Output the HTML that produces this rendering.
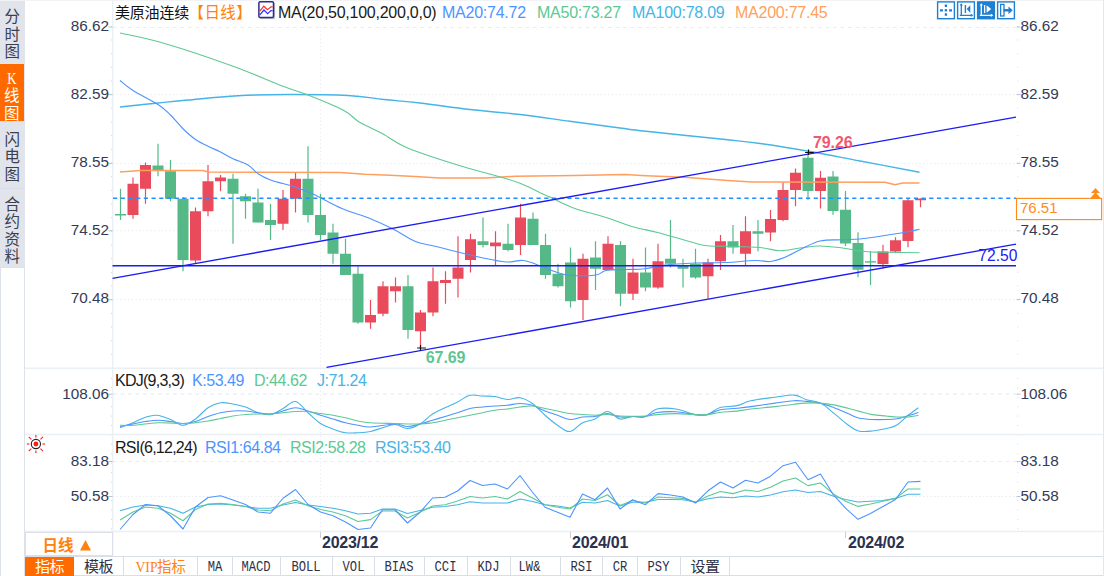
<!DOCTYPE html>
<html><head><meta charset="utf-8"><title>美原油连续 日线</title>
<style>
*{margin:0;padding:0;box-sizing:border-box}
html,body{width:1104px;height:576px;overflow:hidden;background:#fff}
body{position:relative;font-family:"Liberation Sans","Noto Sans CJK SC",sans-serif;color:#222}
.abs{position:absolute;white-space:nowrap}
#side{position:absolute;left:0;top:0;width:25px;height:267px;background:#e2e4ec}
#side div{position:absolute;left:0;width:24.5px;text-align:center;font-size:15.5px;line-height:17.5px;color:#3a3f52;font-family:"Liberation Sans","Noto Sans CJK SC",sans-serif}
#side .on{background:#ff6a00;color:#fff}
#sidebox{position:absolute;left:0;top:266.5px;width:25px;height:310px;border:1.4px solid #dde1e9;background:#fff}
.ax{position:absolute;font-size:15.3px;color:#333a56;line-height:14px}
.axl{width:109px;text-align:right;left:0}
.axr{left:1020.5px}
.hd{position:absolute;top:3px;font-size:16px;line-height:20px;white-space:nowrap;letter-spacing:-0.25px}
.hc{font-size:15px;top:2.5px}
.tab{position:absolute;top:557px;height:19px;border-left:1px solid #d9dde6;font-family:"Liberation Mono","Noto Sans CJK SC",monospace;font-size:12.5px;line-height:22.5px;text-align:center;color:#2d3246;letter-spacing:-0.3px}
.tab span{display:inline-block;font-size:15px;letter-spacing:0;transform:scaleX(0.81);margin:0 -4px}
.tab.vip span{font-family:"Liberation Serif",serif;font-size:15.5px;transform:scaleX(0.88);margin:0 -1.5px 0 -2px}
.tab.vip{color:#ff8210;font-size:14.5px;line-height:20.5px}
.tab.cn{font-size:15px;line-height:19px;letter-spacing:-0.4px;font-family:"Liberation Sans","Noto Sans CJK SC",sans-serif}
.date{position:absolute;top:533.5px;font-size:16px;font-weight:bold;color:#2b3150;line-height:18px;letter-spacing:-0.25px}
</style></head><body>
<div id="side">
 <div style="top:0;height:64px;padding-top:8.2px">分<br>时<br>图</div>
 <div class="on" style="top:64px;height:57px;width:23.6px;padding-top:5.7px"><span style="font-family:'Liberation Serif',serif;font-size:16px;line-height:17.5px;display:block;height:17.6px;transform:scaleX(0.8)">K</span>线<br>图</div>
 <div style="top:121px;height:67px;padding-top:8.6px;border-top:1px solid #d9dce8">闪<br>电<br>图</div>
 <div style="top:188px;height:79px;padding-top:6.9px;border-top:1px solid #d9dce8">合<br>约<br>资<br>料</div>
</div>
<div id="sidebox"></div>
<div style="position:absolute;left:0;top:0;width:1104px;height:1px;background:#f2f3f6"></div>
<div style="position:absolute;left:1103px;top:0;width:1px;height:576px;background:#e4e7ec"></div>

<svg width="1104" height="576" style="position:absolute;left:0;top:0">
<line x1="113" y1="27.5" x2="1016" y2="27.5" stroke="#e6edf5" stroke-width="1.2" stroke-dasharray="3.75,3.75"/>
<line x1="113" y1="94.6" x2="1016" y2="94.6" stroke="#e8ebf0" stroke-width="1" stroke-dasharray="1.3,2.45"/>
<line x1="113" y1="163.4" x2="1016" y2="163.4" stroke="#e8ebf0" stroke-width="1" stroke-dasharray="1.3,2.45"/>
<line x1="113" y1="230.75" x2="1016" y2="230.75" stroke="#e8ebf0" stroke-width="1" stroke-dasharray="1.3,2.45"/>
<line x1="113" y1="299.6" x2="1016" y2="299.6" stroke="#e8ebf0" stroke-width="1" stroke-dasharray="1.3,2.45"/>
<line x1="113" y1="394.2" x2="1016" y2="394.2" stroke="#e6edf5" stroke-width="1.2" stroke-dasharray="3.75,3.75"/>
<line x1="113" y1="461.5" x2="1016" y2="461.5" stroke="#e6edf5" stroke-width="1.2" stroke-dasharray="3.75,3.75"/>
<line x1="113" y1="496.5" x2="1016" y2="496.5" stroke="#e8ebf0" stroke-width="1" stroke-dasharray="1.3,2.45"/>
<line x1="320.5" y1="27" x2="320.5" y2="532" stroke="#e8ebf0" stroke-width="1" stroke-dasharray="1.3,2.45"/>
<line x1="320.5" y1="532" x2="320.5" y2="538" stroke="#c8ccd6" stroke-width="1"/>
<line x1="570.5" y1="532" x2="570.5" y2="538" stroke="#c8ccd6" stroke-width="1"/>
<line x1="845.5" y1="532" x2="845.5" y2="538" stroke="#c8ccd6" stroke-width="1"/>
<line x1="112.7" y1="0" x2="112.7" y2="556" stroke="#ebf0f5" stroke-width="1.5"/>
<line x1="111.5" y1="25.8" x2="111.5" y2="368" stroke="#d4d9e2" stroke-width="1" stroke-dasharray="1,12.67"/>
<line x1="1017.8" y1="25.8" x2="1017.8" y2="368" stroke="#d4d9e2" stroke-width="1" stroke-dasharray="1,12.67"/>
<line x1="111.5" y1="378" x2="111.5" y2="532" stroke="#d4d9e2" stroke-width="1" stroke-dasharray="1,8.4"/>
<line x1="1017.8" y1="378" x2="1017.8" y2="532" stroke="#d4d9e2" stroke-width="1" stroke-dasharray="1,8.4"/>
<line x1="1016.5" y1="27" x2="1020.5" y2="27" stroke="#b9c2cf" stroke-width="1"/>
<line x1="108.5" y1="27" x2="112.5" y2="27" stroke="#b9c2cf" stroke-width="1"/>
<line x1="1016.5" y1="94.6" x2="1020.5" y2="94.6" stroke="#b9c2cf" stroke-width="1"/>
<line x1="108.5" y1="94.6" x2="112.5" y2="94.6" stroke="#b9c2cf" stroke-width="1"/>
<line x1="1016.5" y1="163.4" x2="1020.5" y2="163.4" stroke="#b9c2cf" stroke-width="1"/>
<line x1="108.5" y1="163.4" x2="112.5" y2="163.4" stroke="#b9c2cf" stroke-width="1"/>
<line x1="1016.5" y1="230.75" x2="1020.5" y2="230.75" stroke="#b9c2cf" stroke-width="1"/>
<line x1="108.5" y1="230.75" x2="112.5" y2="230.75" stroke="#b9c2cf" stroke-width="1"/>
<line x1="1016.5" y1="299.6" x2="1020.5" y2="299.6" stroke="#b9c2cf" stroke-width="1"/>
<line x1="108.5" y1="299.6" x2="112.5" y2="299.6" stroke="#b9c2cf" stroke-width="1"/>
<line x1="1016.5" y1="394.2" x2="1020.5" y2="394.2" stroke="#b9c2cf" stroke-width="1"/>
<line x1="108.5" y1="394.2" x2="112.5" y2="394.2" stroke="#b9c2cf" stroke-width="1"/>
<line x1="1016.5" y1="461.5" x2="1020.5" y2="461.5" stroke="#b9c2cf" stroke-width="1"/>
<line x1="108.5" y1="461.5" x2="112.5" y2="461.5" stroke="#b9c2cf" stroke-width="1"/>
<line x1="1016.5" y1="496.5" x2="1020.5" y2="496.5" stroke="#b9c2cf" stroke-width="1"/>
<line x1="108.5" y1="496.5" x2="112.5" y2="496.5" stroke="#b9c2cf" stroke-width="1"/>
<line x1="25" y1="368.2" x2="1103" y2="368.2" stroke="#eaeff4" stroke-width="1.5"/>
<line x1="25" y1="434.4" x2="1103" y2="434.4" stroke="#eaeff4" stroke-width="1.5"/>
<line x1="25" y1="531.6" x2="1103" y2="531.6" stroke="#eaeff4" stroke-width="1.5"/>
<line x1="120.50" y1="188.75" x2="120.50" y2="220.00" stroke="#54b987" stroke-width="1.2"/>
<rect x="115.00" y="214.00" width="11" height="1.50" fill="#54b987"/>
<line x1="133.00" y1="177.50" x2="133.00" y2="218.75" stroke="#e94b5d" stroke-width="1.2"/>
<rect x="127.50" y="183.75" width="11" height="31.25" fill="#e94b5d"/>
<line x1="145.50" y1="162.50" x2="145.50" y2="203.75" stroke="#e94b5d" stroke-width="1.2"/>
<rect x="140.00" y="165.00" width="11" height="23.75" fill="#e94b5d"/>
<line x1="158.00" y1="143.75" x2="158.00" y2="176.25" stroke="#54b987" stroke-width="1.2"/>
<rect x="152.50" y="165.50" width="11" height="5.00" fill="#54b987"/>
<line x1="170.50" y1="160.00" x2="170.50" y2="201.25" stroke="#54b987" stroke-width="1.2"/>
<rect x="165.00" y="171.25" width="11" height="27.50" fill="#54b987"/>
<line x1="183.00" y1="197.00" x2="183.00" y2="271.25" stroke="#54b987" stroke-width="1.2"/>
<rect x="177.50" y="198.75" width="11" height="61.25" fill="#54b987"/>
<line x1="195.50" y1="207.50" x2="195.50" y2="263.75" stroke="#e94b5d" stroke-width="1.2"/>
<rect x="190.00" y="211.25" width="11" height="49.25" fill="#e94b5d"/>
<line x1="208.00" y1="165.00" x2="208.00" y2="216.25" stroke="#e94b5d" stroke-width="1.2"/>
<rect x="202.50" y="181.25" width="11" height="30.00" fill="#e94b5d"/>
<line x1="220.50" y1="175.00" x2="220.50" y2="191.25" stroke="#e94b5d" stroke-width="1.2"/>
<rect x="215.00" y="177.50" width="11" height="3.75" fill="#e94b5d"/>
<line x1="233.00" y1="173.75" x2="233.00" y2="243.75" stroke="#54b987" stroke-width="1.2"/>
<rect x="227.50" y="178.75" width="11" height="15.00" fill="#54b987"/>
<line x1="245.50" y1="193.75" x2="245.50" y2="218.75" stroke="#54b987" stroke-width="1.2"/>
<rect x="240.00" y="196.25" width="11" height="5.00" fill="#54b987"/>
<line x1="258.00" y1="188.75" x2="258.00" y2="222.50" stroke="#54b987" stroke-width="1.2"/>
<rect x="252.50" y="202.50" width="11" height="20.00" fill="#54b987"/>
<line x1="270.50" y1="203.75" x2="270.50" y2="240.00" stroke="#54b987" stroke-width="1.2"/>
<rect x="265.00" y="220.00" width="11" height="5.00" fill="#54b987"/>
<line x1="283.00" y1="190.00" x2="283.00" y2="230.00" stroke="#e94b5d" stroke-width="1.2"/>
<rect x="277.50" y="198.75" width="11" height="25.00" fill="#e94b5d"/>
<line x1="295.50" y1="172.00" x2="295.50" y2="212.50" stroke="#e94b5d" stroke-width="1.2"/>
<rect x="290.00" y="178.75" width="11" height="20.00" fill="#e94b5d"/>
<line x1="308.00" y1="146.25" x2="308.00" y2="222.50" stroke="#54b987" stroke-width="1.2"/>
<rect x="302.50" y="178.75" width="11" height="36.25" fill="#54b987"/>
<line x1="320.50" y1="193.75" x2="320.50" y2="240.00" stroke="#54b987" stroke-width="1.2"/>
<rect x="315.00" y="215.00" width="11" height="20.00" fill="#54b987"/>
<line x1="333.00" y1="223.75" x2="333.00" y2="263.75" stroke="#54b987" stroke-width="1.2"/>
<rect x="327.50" y="232.50" width="11" height="21.25" fill="#54b987"/>
<line x1="345.50" y1="238.75" x2="345.50" y2="275.00" stroke="#54b987" stroke-width="1.2"/>
<rect x="340.00" y="253.75" width="11" height="21.25" fill="#54b987"/>
<line x1="358.00" y1="266.25" x2="358.00" y2="323.75" stroke="#54b987" stroke-width="1.2"/>
<rect x="352.50" y="273.75" width="11" height="48.75" fill="#54b987"/>
<line x1="370.50" y1="300.00" x2="370.50" y2="328.75" stroke="#e94b5d" stroke-width="1.2"/>
<rect x="365.00" y="315.00" width="11" height="7.50" fill="#e94b5d"/>
<line x1="383.00" y1="281.25" x2="383.00" y2="316.25" stroke="#e94b5d" stroke-width="1.2"/>
<rect x="377.50" y="286.25" width="11" height="27.50" fill="#e94b5d"/>
<line x1="395.50" y1="277.50" x2="395.50" y2="302.50" stroke="#e94b5d" stroke-width="1.2"/>
<rect x="390.00" y="286.25" width="11" height="5.00" fill="#e94b5d"/>
<line x1="408.00" y1="275.00" x2="408.00" y2="338.75" stroke="#54b987" stroke-width="1.2"/>
<rect x="402.50" y="286.25" width="11" height="43.75" fill="#54b987"/>
<line x1="420.50" y1="310.00" x2="420.50" y2="348.75" stroke="#e94b5d" stroke-width="1.2"/>
<rect x="415.00" y="312.50" width="11" height="18.75" fill="#e94b5d"/>
<line x1="433.00" y1="267.50" x2="433.00" y2="316.25" stroke="#e94b5d" stroke-width="1.2"/>
<rect x="427.50" y="281.25" width="11" height="31.25" fill="#e94b5d"/>
<line x1="445.50" y1="271.25" x2="445.50" y2="303.75" stroke="#e94b5d" stroke-width="1.2"/>
<rect x="440.00" y="280.00" width="11" height="3.00" fill="#e94b5d"/>
<line x1="458.00" y1="236.25" x2="458.00" y2="297.50" stroke="#e94b5d" stroke-width="1.2"/>
<rect x="452.50" y="267.50" width="11" height="11.25" fill="#e94b5d"/>
<line x1="470.50" y1="233.75" x2="470.50" y2="272.50" stroke="#e94b5d" stroke-width="1.2"/>
<rect x="465.00" y="239.25" width="11" height="20.75" fill="#e94b5d"/>
<line x1="483.00" y1="217.50" x2="483.00" y2="247.50" stroke="#54b987" stroke-width="1.2"/>
<rect x="477.50" y="241.25" width="11" height="3.75" fill="#54b987"/>
<line x1="495.50" y1="231.25" x2="495.50" y2="265.00" stroke="#e94b5d" stroke-width="1.2"/>
<rect x="490.00" y="242.50" width="11" height="3.75" fill="#e94b5d"/>
<line x1="508.00" y1="223.75" x2="508.00" y2="251.25" stroke="#54b987" stroke-width="1.2"/>
<rect x="502.50" y="243.75" width="11" height="6.25" fill="#54b987"/>
<line x1="520.50" y1="203.75" x2="520.50" y2="255.00" stroke="#e94b5d" stroke-width="1.2"/>
<rect x="515.00" y="217.50" width="11" height="27.50" fill="#e94b5d"/>
<line x1="533.00" y1="212.50" x2="533.00" y2="245.00" stroke="#54b987" stroke-width="1.2"/>
<rect x="527.50" y="218.75" width="11" height="26.25" fill="#54b987"/>
<line x1="545.50" y1="233.75" x2="545.50" y2="278.75" stroke="#54b987" stroke-width="1.2"/>
<rect x="540.00" y="245.00" width="11" height="30.00" fill="#54b987"/>
<line x1="558.00" y1="263.75" x2="558.00" y2="287.50" stroke="#54b987" stroke-width="1.2"/>
<rect x="552.50" y="273.75" width="11" height="12.50" fill="#54b987"/>
<line x1="570.50" y1="247.50" x2="570.50" y2="307.50" stroke="#54b987" stroke-width="1.2"/>
<rect x="565.00" y="262.50" width="11" height="38.75" fill="#54b987"/>
<line x1="583.00" y1="253.75" x2="583.00" y2="320.00" stroke="#e94b5d" stroke-width="1.2"/>
<rect x="577.50" y="258.75" width="11" height="41.25" fill="#e94b5d"/>
<line x1="595.50" y1="241.25" x2="595.50" y2="290.00" stroke="#54b987" stroke-width="1.2"/>
<rect x="590.00" y="257.50" width="11" height="11.25" fill="#54b987"/>
<line x1="608.00" y1="236.25" x2="608.00" y2="270.00" stroke="#e94b5d" stroke-width="1.2"/>
<rect x="602.50" y="243.75" width="11" height="26.25" fill="#e94b5d"/>
<line x1="620.50" y1="241.25" x2="620.50" y2="306.25" stroke="#54b987" stroke-width="1.2"/>
<rect x="615.00" y="245.00" width="11" height="48.75" fill="#54b987"/>
<line x1="633.00" y1="258.75" x2="633.00" y2="300.00" stroke="#e94b5d" stroke-width="1.2"/>
<rect x="627.50" y="272.50" width="11" height="21.25" fill="#e94b5d"/>
<line x1="645.50" y1="247.50" x2="645.50" y2="291.25" stroke="#54b987" stroke-width="1.2"/>
<rect x="640.00" y="272.50" width="11" height="15.00" fill="#54b987"/>
<line x1="658.00" y1="243.75" x2="658.00" y2="288.75" stroke="#e94b5d" stroke-width="1.2"/>
<rect x="652.50" y="261.25" width="11" height="26.25" fill="#e94b5d"/>
<line x1="670.50" y1="220.00" x2="670.50" y2="267.50" stroke="#54b987" stroke-width="1.2"/>
<rect x="665.00" y="258.75" width="11" height="5.00" fill="#54b987"/>
<line x1="683.00" y1="258.75" x2="683.00" y2="287.50" stroke="#54b987" stroke-width="1.2"/>
<rect x="677.50" y="265.50" width="11" height="3.25" fill="#54b987"/>
<line x1="695.50" y1="248.75" x2="695.50" y2="278.75" stroke="#54b987" stroke-width="1.2"/>
<rect x="690.00" y="263.75" width="11" height="13.75" fill="#54b987"/>
<line x1="708.00" y1="258.75" x2="708.00" y2="298.75" stroke="#e94b5d" stroke-width="1.2"/>
<rect x="702.50" y="262.50" width="11" height="13.75" fill="#e94b5d"/>
<line x1="720.50" y1="235.00" x2="720.50" y2="270.00" stroke="#e94b5d" stroke-width="1.2"/>
<rect x="715.00" y="241.25" width="11" height="20.00" fill="#e94b5d"/>
<line x1="733.00" y1="225.00" x2="733.00" y2="253.75" stroke="#54b987" stroke-width="1.2"/>
<rect x="727.50" y="241.25" width="11" height="6.25" fill="#54b987"/>
<line x1="745.50" y1="216.25" x2="745.50" y2="265.00" stroke="#e94b5d" stroke-width="1.2"/>
<rect x="740.00" y="231.25" width="11" height="22.50" fill="#e94b5d"/>
<line x1="758.00" y1="220.00" x2="758.00" y2="251.25" stroke="#54b987" stroke-width="1.2"/>
<rect x="752.50" y="231.25" width="11" height="2.50" fill="#54b987"/>
<line x1="770.50" y1="210.00" x2="770.50" y2="241.25" stroke="#e94b5d" stroke-width="1.2"/>
<rect x="765.00" y="219.00" width="11" height="13.50" fill="#e94b5d"/>
<line x1="783.00" y1="182.50" x2="783.00" y2="221.25" stroke="#e94b5d" stroke-width="1.2"/>
<rect x="777.50" y="190.00" width="11" height="30.00" fill="#e94b5d"/>
<line x1="795.50" y1="168.50" x2="795.50" y2="206.25" stroke="#e94b5d" stroke-width="1.2"/>
<rect x="790.00" y="172.75" width="11" height="17.25" fill="#e94b5d"/>
<line x1="808.00" y1="153.50" x2="808.00" y2="199.75" stroke="#54b987" stroke-width="1.2"/>
<rect x="802.50" y="157.75" width="11" height="33.25" fill="#54b987"/>
<line x1="820.50" y1="171.00" x2="820.50" y2="208.50" stroke="#e94b5d" stroke-width="1.2"/>
<rect x="815.00" y="177.75" width="11" height="13.25" fill="#e94b5d"/>
<line x1="833.00" y1="171.00" x2="833.00" y2="214.75" stroke="#54b987" stroke-width="1.2"/>
<rect x="827.50" y="176.50" width="11" height="34.50" fill="#54b987"/>
<line x1="845.50" y1="191.00" x2="845.50" y2="246.00" stroke="#54b987" stroke-width="1.2"/>
<rect x="840.00" y="209.75" width="11" height="33.75" fill="#54b987"/>
<line x1="858.00" y1="232.25" x2="858.00" y2="277.25" stroke="#54b987" stroke-width="1.2"/>
<rect x="852.50" y="243.00" width="11" height="26.75" fill="#54b987"/>
<line x1="870.50" y1="251.00" x2="870.50" y2="285.00" stroke="#54b987" stroke-width="1.2"/>
<rect x="865.00" y="261.20" width="11" height="1.40" fill="#54b987"/>
<line x1="883.00" y1="244.75" x2="883.00" y2="268.50" stroke="#e94b5d" stroke-width="1.2"/>
<rect x="877.50" y="251.50" width="11" height="12.50" fill="#e94b5d"/>
<line x1="895.50" y1="237.25" x2="895.50" y2="253.00" stroke="#e94b5d" stroke-width="1.2"/>
<rect x="890.00" y="240.25" width="11" height="11.25" fill="#e94b5d"/>
<line x1="908.00" y1="198.50" x2="908.00" y2="247.25" stroke="#e94b5d" stroke-width="1.2"/>
<rect x="902.50" y="200.25" width="11" height="40.75" fill="#e94b5d"/>
<line x1="920.50" y1="198.50" x2="920.50" y2="207.25" stroke="#e94b5d" stroke-width="1.2"/>
<rect x="915.00" y="198.50" width="11" height="1.75" fill="#e94b5d"/>
<path d="M120.00 107.00C126.84 106.28 145.76 104.26 158.00 103.00C170.24 101.74 173.60 101.31 188.00 100.00C202.40 98.69 220.00 96.74 238.00 95.75C256.00 94.76 268.20 94.55 288.00 94.50C307.80 94.45 330.72 94.60 348.00 95.50C365.28 96.40 371.04 98.15 384.00 99.50C396.96 100.85 404.52 101.20 420.00 103.00C435.48 104.80 452.00 107.43 470.00 109.50C488.00 111.57 502.00 112.39 520.00 114.50C538.00 116.61 552.00 118.82 570.00 121.25C588.00 123.68 606.32 126.20 620.00 128.00C633.68 129.80 627.46 129.22 646.00 131.25C664.54 133.28 702.48 137.09 723.00 139.30C743.52 141.51 744.34 141.30 760.00 143.50C775.66 145.70 792.00 148.35 810.00 151.50C828.00 154.65 840.29 157.26 860.00 161.00C879.71 164.74 908.79 170.22 919.50 172.25" fill="none" stroke="#45b4e6" stroke-width="1.4" stroke-linejoin="round"/>
<polyline points="120.00,172.00 140.50,170.50 203.00,170.50 208.00,172.00 340.00,172.50 365.00,174.25 390.00,175.25 415.00,176.50 440.00,178.00 485.00,178.00 515.00,176.25 575.00,175.50 625.00,174.50 646.00,175.75 684.70,177.20 727.50,180.50 752.50,182.00 885.00,182.25 895.00,184.75 902.50,183.00 919.50,183.00" fill="none" stroke="#ff9f5e" stroke-width="1.5" stroke-linejoin="round"/>
<path d="M120.00 33.00C128.19 34.94 145.16 37.77 165.50 43.75C185.84 49.73 211.85 58.60 233.00 66.25C254.15 73.90 269.50 81.08 283.00 86.25C296.50 91.42 297.20 90.72 308.00 95.00C318.80 99.28 334.00 105.28 343.00 110.00C352.00 114.72 353.14 118.10 358.00 121.25C362.86 124.40 365.32 125.11 370.00 127.50C374.68 129.88 377.25 130.81 384.00 134.50C390.75 138.19 394.27 142.51 407.50 148.00C420.73 153.49 441.75 160.05 457.50 165.00C473.25 169.95 483.75 172.22 495.00 175.50C506.25 178.78 511.00 179.74 520.00 183.25C529.00 186.76 539.42 192.44 545.00 195.00C550.58 197.56 545.87 195.16 551.00 197.50C556.13 199.84 563.60 204.40 573.50 208.00C583.40 211.60 595.65 214.22 606.00 217.50C616.35 220.78 621.73 223.55 631.00 226.25C640.27 228.95 648.23 230.12 657.50 232.50C666.77 234.88 673.95 237.16 682.50 239.50C691.05 241.84 697.35 244.28 705.00 245.50C712.65 246.72 715.10 245.89 725.00 246.25C734.90 246.61 750.10 246.69 760.00 247.50C769.90 248.31 772.80 250.66 780.00 250.75C787.20 250.84 792.80 248.85 800.00 248.00C807.20 247.15 812.35 246.00 820.00 246.00C827.65 246.00 834.40 247.01 842.50 248.00C850.60 248.99 857.35 250.74 865.00 251.50C872.65 252.26 875.19 252.03 885.00 252.25C894.81 252.47 913.29 252.66 919.50 252.75" fill="none" stroke="#5cc994" stroke-width="1.1" stroke-linejoin="round"/>
<path d="M120.00 80.50C122.34 82.30 126.16 86.18 133.00 90.50C139.84 94.82 151.25 100.09 158.00 104.50C164.75 108.91 166.00 110.64 170.50 115.00C175.00 119.36 178.50 124.34 183.00 128.75C187.50 133.16 191.00 136.35 195.50 139.50C200.00 142.65 203.50 144.00 208.00 146.25C212.50 148.50 216.00 149.75 220.50 152.00C225.00 154.25 228.05 156.41 233.00 158.75C237.95 161.09 243.50 162.30 248.00 165.00C252.50 167.70 253.95 171.05 258.00 173.75C262.05 176.45 266.00 178.25 270.50 180.00C275.00 181.75 278.59 182.24 283.00 183.50C287.41 184.76 289.69 185.16 295.00 187.00C300.31 188.84 303.95 189.84 312.50 193.75C321.05 197.66 332.60 204.47 342.50 208.75C352.40 213.03 358.50 213.90 367.50 217.50C376.50 221.10 384.85 224.93 392.50 228.75C400.15 232.57 405.05 236.19 410.00 238.75C414.95 241.31 415.50 241.65 420.00 243.00C424.50 244.35 428.70 244.76 435.00 246.25C441.30 247.74 446.72 249.22 455.00 251.25C463.28 253.28 471.82 255.56 481.00 257.50C490.18 259.44 498.35 261.46 506.00 262.00C513.65 262.54 517.20 259.74 523.50 260.50C529.80 261.26 535.15 264.18 541.00 266.25C546.85 268.32 550.60 270.33 556.00 272.00C561.40 273.67 563.80 274.96 571.00 275.50C578.20 276.04 589.70 275.90 596.00 275.00C602.30 274.10 600.60 271.49 606.00 270.50C611.40 269.51 618.98 269.81 626.00 269.50C633.02 269.19 637.98 269.56 645.00 268.75C652.02 267.94 656.00 266.04 665.00 265.00C674.00 263.96 684.20 263.45 695.00 263.00C705.80 262.55 714.20 262.95 725.00 262.50C735.80 262.05 746.90 260.68 755.00 260.50C763.10 260.32 764.60 262.08 770.00 261.50C775.40 260.92 779.60 259.37 785.00 257.25C790.40 255.13 793.70 252.68 800.00 249.75C806.30 246.82 812.35 242.80 820.00 241.00C827.65 239.20 835.30 240.11 842.50 239.75C849.70 239.39 852.35 239.76 860.00 239.00C867.65 238.24 876.90 236.72 885.00 235.50C893.10 234.28 898.79 233.38 905.00 232.25C911.21 231.12 916.89 229.79 919.50 229.25" fill="none" stroke="#4d94ff" stroke-width="1.1" stroke-linejoin="round"/>
<line x1="113" y1="198.2" x2="1016" y2="198.2" stroke="#2390ff" stroke-width="1.5" stroke-dasharray="4.2,3.5"/>
<line x1="112.5" y1="265.8" x2="1016" y2="265.8" stroke="#1c1cf2" stroke-width="1.4"/>
<line x1="112.5" y1="278.3" x2="1016" y2="117.1" stroke="#1c1cf2" stroke-width="1.35"/>
<line x1="326.5" y1="367.4" x2="1016" y2="244.1" stroke="#1c1cf2" stroke-width="1.35"/>
<path d="M805.1 152.5h8.8M808.5 149.5v5.6" stroke="#111" stroke-width="1.2" fill="none"/>
<path d="M417.1 348.0h8.8M420.5 345.0v5.6" stroke="#111" stroke-width="1.2" fill="none"/>
<path d="M120.00 427.75C122.34 426.85 128.41 424.64 133.00 422.75C137.59 420.86 141.22 418.60 145.50 417.25C149.78 415.90 152.25 414.85 156.75 415.25C161.25 415.65 165.78 417.70 170.50 419.50C175.22 421.30 178.50 425.34 183.00 425.25C187.50 425.16 191.00 422.15 195.50 419.00C200.00 415.85 203.50 410.68 208.00 407.75C212.50 404.82 216.00 403.43 220.50 402.75C225.00 402.07 228.50 403.24 233.00 404.00C237.50 404.76 241.00 405.43 245.50 407.00C250.00 408.57 253.50 411.40 258.00 412.75C262.50 414.10 266.00 415.26 270.50 414.50C275.00 413.74 278.50 410.84 283.00 408.50C287.50 406.16 291.00 400.74 295.50 401.50C300.00 402.26 303.50 408.79 308.00 412.75C312.50 416.71 316.00 420.57 320.50 423.50C325.00 426.43 328.50 427.33 333.00 429.00C337.50 430.67 341.00 432.07 345.50 432.75C350.00 433.43 353.50 432.98 358.00 432.75C362.50 432.52 366.09 432.40 370.50 431.50C374.91 430.60 378.09 429.01 382.50 427.75C386.91 426.49 390.50 424.37 395.00 424.50C399.50 424.63 403.00 428.59 407.50 428.50C412.00 428.41 415.50 426.61 420.00 424.00C424.50 421.39 428.00 416.93 432.50 414.00C437.00 411.07 440.50 409.91 445.00 407.75C449.50 405.59 453.00 404.25 457.50 402.00C462.00 399.75 465.50 396.33 470.00 395.25C474.50 394.17 478.00 395.77 482.50 396.00C487.00 396.23 490.50 395.87 495.00 396.50C499.50 397.13 503.00 399.27 507.50 399.50C512.00 399.73 515.50 397.03 520.00 397.75C524.50 398.47 528.00 400.35 532.50 403.50C537.00 406.65 540.50 411.33 545.00 415.25C549.50 419.17 553.00 422.32 557.50 425.25C562.00 428.18 565.50 431.95 570.00 431.50C574.50 431.05 578.00 425.00 582.50 422.75C587.00 420.50 590.50 421.02 595.00 419.00C599.50 416.98 603.00 411.50 607.50 411.50C612.00 411.50 615.50 418.10 620.00 419.00C624.50 419.90 628.05 416.86 632.50 416.50C636.95 416.14 640.29 418.35 644.70 417.00C649.11 415.65 651.37 410.44 657.00 409.00C662.63 407.56 669.16 407.99 676.00 409.00C682.84 410.01 689.37 413.59 695.00 414.60C700.63 415.61 702.89 415.84 707.30 414.60C711.71 413.36 714.17 409.32 719.50 407.70C724.83 406.08 731.27 406.86 736.90 405.60C742.53 404.34 743.94 402.21 750.80 400.70C757.66 399.19 767.17 398.21 775.00 397.20C782.83 396.19 788.65 394.65 794.30 395.10C799.95 395.55 801.72 398.26 806.40 399.70C811.08 401.14 815.28 400.60 820.30 403.10C825.32 405.60 829.28 409.66 834.30 413.60C839.32 417.54 843.83 421.87 848.20 425.00C852.57 428.13 854.23 429.92 858.60 431.00C862.97 432.08 867.50 431.45 872.50 431.00C877.50 430.55 882.01 429.58 886.40 428.50C890.79 427.42 893.14 427.25 896.90 425.00C900.66 422.75 903.43 419.11 907.30 416.00C911.17 412.89 916.40 409.19 918.40 407.70" fill="none" stroke="#45b4e6" stroke-width="1.1" stroke-linejoin="round"/>
<path d="M120.00 426.50C122.34 426.05 128.41 424.90 133.00 424.00C137.59 423.10 141.00 422.18 145.50 421.50C150.00 420.82 153.50 420.25 158.00 420.25C162.50 420.25 166.00 420.92 170.50 421.50C175.00 422.08 178.50 423.50 183.00 423.50C187.50 423.50 191.00 422.76 195.50 421.50C200.00 420.24 203.50 418.07 208.00 416.50C212.50 414.93 216.00 413.74 220.50 412.75C225.00 411.76 228.50 411.31 233.00 411.00C237.50 410.69 241.00 410.69 245.50 411.00C250.00 411.31 253.50 412.21 258.00 412.75C262.50 413.29 266.00 414.31 270.50 414.00C275.00 413.69 278.50 412.12 283.00 411.00C287.50 409.88 291.00 407.75 295.50 407.75C300.00 407.75 303.50 409.65 308.00 411.00C312.50 412.35 316.00 413.81 320.50 415.25C325.00 416.69 328.50 417.65 333.00 419.00C337.50 420.35 341.00 421.62 345.50 422.75C350.00 423.88 353.50 424.49 358.00 425.25C362.50 426.01 363.84 427.23 370.50 427.00C377.16 426.77 388.34 424.09 395.00 424.00C401.66 423.91 403.00 426.50 407.50 426.50C412.00 426.50 415.50 425.12 420.00 424.00C424.50 422.88 428.00 421.60 432.50 420.25C437.00 418.90 440.50 417.85 445.00 416.50C449.50 415.15 453.00 414.19 457.50 412.75C462.00 411.31 465.50 409.54 470.00 408.50C474.50 407.46 478.00 407.45 482.50 407.00C487.00 406.55 490.50 406.31 495.00 406.00C499.50 405.69 503.00 405.70 507.50 405.25C512.00 404.80 515.50 403.50 520.00 403.50C524.50 403.50 528.00 403.90 532.50 405.25C537.00 406.60 540.50 409.20 545.00 411.00C549.50 412.80 553.00 413.72 557.50 415.25C562.00 416.78 565.50 419.19 570.00 419.50C574.50 419.81 578.00 417.54 582.50 417.00C587.00 416.46 590.50 417.13 595.00 416.50C599.50 415.87 603.00 413.41 607.50 413.50C612.00 413.59 615.50 416.46 620.00 417.00C624.50 417.54 628.00 416.59 632.50 416.50C637.00 416.41 640.59 417.22 645.00 416.50C649.41 415.78 651.42 413.35 657.00 412.50C662.58 411.65 669.16 411.42 676.00 411.80C682.84 412.18 689.42 414.10 695.00 414.60C700.58 415.10 702.59 415.43 707.00 414.60C711.41 413.77 714.10 411.13 719.50 410.00C724.90 408.87 731.33 408.91 737.00 408.30C742.67 407.69 744.16 407.54 751.00 406.60C757.84 405.66 767.26 404.16 775.00 403.10C782.74 402.04 788.42 401.01 794.00 400.70C799.58 400.39 801.32 400.97 806.00 401.40C810.68 401.83 814.96 401.97 820.00 403.10C825.04 404.23 828.96 405.81 834.00 407.70C839.04 409.59 843.57 411.75 848.00 413.60C852.43 415.45 854.19 416.94 858.60 418.00C863.01 419.06 867.57 419.23 872.50 419.50C877.43 419.77 881.59 419.63 886.00 419.50C890.41 419.37 893.22 419.43 897.00 418.80C900.78 418.17 903.15 417.13 907.00 416.00C910.85 414.87 916.35 413.13 918.40 412.50" fill="none" stroke="#4d94ff" stroke-width="1.1" stroke-linejoin="round"/>
<path d="M120.00 425.25C122.34 425.25 126.16 425.70 133.00 425.25C139.84 424.80 149.00 423.06 158.00 422.75C167.00 422.44 176.25 423.50 183.00 423.50C189.75 423.50 191.00 423.20 195.50 422.75C200.00 422.30 203.50 421.76 208.00 421.00C212.50 420.24 216.00 419.40 220.50 418.50C225.00 417.60 228.50 416.72 233.00 416.00C237.50 415.28 241.00 414.86 245.50 414.50C250.00 414.14 253.50 414.09 258.00 414.00C262.50 413.91 266.00 414.23 270.50 414.00C275.00 413.77 278.50 413.20 283.00 412.75C287.50 412.30 291.00 411.73 295.50 411.50C300.00 411.27 303.50 411.14 308.00 411.50C312.50 411.86 316.00 412.82 320.50 413.50C325.00 414.18 328.50 414.49 333.00 415.25C337.50 416.01 341.00 416.71 345.50 417.75C350.00 418.79 353.50 420.10 358.00 421.00C362.50 421.90 363.84 422.30 370.50 422.75C377.16 423.20 386.09 423.27 395.00 423.50C403.91 423.73 413.25 424.13 420.00 424.00C426.75 423.87 428.00 423.43 432.50 422.75C437.00 422.07 440.50 421.15 445.00 420.25C449.50 419.35 453.00 418.65 457.50 417.75C462.00 416.85 465.50 416.15 470.00 415.25C474.50 414.35 478.00 413.65 482.50 412.75C487.00 411.85 490.50 410.93 495.00 410.25C499.50 409.57 503.00 409.58 507.50 409.00C512.00 408.42 515.50 407.54 520.00 407.00C524.50 406.46 528.00 405.73 532.50 406.00C537.00 406.27 540.50 407.60 545.00 408.50C549.50 409.40 553.00 410.10 557.50 411.00C562.00 411.90 565.50 412.87 570.00 413.50C574.50 414.13 578.00 414.19 582.50 414.50C587.00 414.81 590.50 415.25 595.00 415.25C599.50 415.25 603.00 414.37 607.50 414.50C612.00 414.63 613.07 415.73 620.00 416.00C626.93 416.27 639.34 416.25 646.00 416.00C652.66 415.75 651.60 415.03 657.00 414.60C662.40 414.17 669.16 413.60 676.00 413.60C682.84 413.60 689.42 414.42 695.00 414.60C700.58 414.78 702.59 414.98 707.00 414.60C711.41 414.22 714.10 413.13 719.50 412.50C724.90 411.87 731.33 411.73 737.00 411.10C742.67 410.47 744.16 409.81 751.00 409.00C757.84 408.19 767.26 407.46 775.00 406.60C782.74 405.74 788.42 404.83 794.00 404.20C799.58 403.57 801.32 403.30 806.00 403.10C810.68 402.90 814.96 402.78 820.00 403.10C825.04 403.42 828.96 403.96 834.00 404.90C839.04 405.84 843.57 407.18 848.00 408.30C852.43 409.42 854.19 409.97 858.60 411.10C863.01 412.23 867.57 413.72 872.50 414.60C877.43 415.48 881.59 415.57 886.00 416.00C890.41 416.43 893.22 416.82 897.00 417.00C900.78 417.18 903.15 417.31 907.00 417.00C910.85 416.69 916.35 415.61 918.40 415.30" fill="none" stroke="#5cc994" stroke-width="1.1" stroke-linejoin="round"/>
<polyline points="120.00,510.75 133.00,507.00 145.50,505.00 158.00,505.75 170.50,508.25 183.00,513.25 195.50,507.00 208.00,504.50 220.50,504.00 233.00,505.00 245.50,506.50 258.00,508.25 270.50,508.25 283.00,505.00 295.50,502.50 308.00,505.00 320.50,506.50 333.00,508.25 345.50,510.75 358.00,514.00 370.50,513.20 382.50,509.00 395.00,509.00 407.50,513.50 420.00,510.50 432.50,507.25 445.00,506.50 457.50,504.75 470.00,501.75 482.50,503.00 495.00,503.00 507.50,503.00 520.00,499.00 532.50,501.50 545.00,504.75 557.50,506.00 570.00,508.00 582.50,502.25 595.00,503.00 607.50,500.50 620.00,506.00 632.50,502.25 645.50,502.30 658.00,499.50 670.50,499.50 683.00,499.80 695.50,502.00 708.00,498.80 720.50,497.00 733.00,497.70 745.50,496.00 758.00,497.00 770.50,495.00 783.00,491.80 795.50,490.00 808.00,492.50 820.50,491.50 833.00,496.00 845.50,499.50 858.00,502.00 870.50,501.20 883.00,500.50 895.50,498.40 908.00,494.30 920.50,494.30" fill="none" stroke="#45b4e6" stroke-width="1.1" stroke-linejoin="round"/>
<polyline points="120.00,520.00 133.00,512.00 145.50,507.00 158.00,508.25 170.50,513.25 183.00,520.75 195.50,509.50 208.00,504.00 220.50,503.25 233.00,504.50 245.50,506.50 258.00,510.00 270.50,510.75 283.00,504.00 295.50,500.00 308.00,505.75 320.50,509.50 333.00,512.00 345.50,515.75 358.00,521.50 370.50,519.60 382.50,511.00 395.00,511.00 407.50,518.00 420.00,512.25 432.50,506.00 445.00,504.75 457.50,501.00 470.00,496.50 482.50,498.00 495.00,496.50 507.50,499.00 520.00,491.50 532.50,498.00 545.00,504.75 557.50,507.25 570.00,509.00 582.50,499.00 595.00,500.50 607.50,494.75 620.00,505.50 632.50,500.50 645.50,503.00 658.00,497.00 670.50,497.70 683.00,498.40 695.50,502.30 708.00,496.00 720.50,491.50 733.00,493.60 745.50,490.00 758.00,491.50 770.50,487.30 783.00,481.00 795.50,478.00 808.00,485.60 820.50,483.00 833.00,493.60 845.50,501.20 858.00,506.40 870.50,504.00 883.00,501.20 895.50,498.40 908.00,489.00 920.50,489.00" fill="none" stroke="#5cc994" stroke-width="1.1" stroke-linejoin="round"/>
<polyline points="120.00,529.50 133.00,514.50 145.50,504.50 158.00,505.75 170.50,515.75 183.00,529.00 195.50,507.00 208.00,497.50 220.50,495.75 233.00,500.00 245.50,504.50 258.00,512.00 270.50,513.25 283.00,498.25 295.50,489.50 308.00,504.50 320.50,512.00 333.00,515.75 345.50,522.00 358.00,529.50 370.50,528.00 382.50,509.75 395.00,509.75 407.50,523.00 420.00,512.25 432.50,498.00 445.00,497.25 457.50,491.00 470.00,480.50 482.50,485.50 495.00,484.00 507.50,489.00 520.00,475.50 532.50,492.25 545.00,507.25 557.50,512.25 570.00,517.25 582.50,494.00 595.00,499.75 607.50,488.00 620.00,509.00 632.50,499.75 645.50,504.70 658.00,493.60 670.50,495.00 683.00,497.00 695.50,503.00 708.00,490.80 720.50,482.00 733.00,488.00 745.50,480.30 758.00,483.00 770.50,476.20 783.00,465.70 795.50,462.30 808.00,479.70 820.50,474.00 833.00,494.30 845.50,508.20 858.00,519.30 870.50,513.40 883.00,506.40 895.50,499.50 908.00,482.00 920.50,481.40" fill="none" stroke="#4d94ff" stroke-width="1.1" stroke-linejoin="round"/>
<rect x="1016.5" y="198.4" width="85.1" height="21.2" fill="#fff" stroke="#ff8c1a" stroke-width="1.15"/>
<path d="M1095.5 188 L1100 193 L1091 193 Z M1095.5 192 L1100.5 198 L1090.5 198 Z" fill="#ff8c1a"/>
<circle cx="35.9" cy="444" r="4.6" fill="#fff" stroke="#222" stroke-width="1.1"/>
<circle cx="35.9" cy="444" r="2.4" fill="#ff1a1a"/>
<line x1="42.40" y1="444.00" x2="44.90" y2="444.00" stroke="#ff2a2a" stroke-width="1.2"/>
<line x1="40.50" y1="448.60" x2="42.97" y2="451.07" stroke="#ff2a2a" stroke-width="1.2"/>
<line x1="35.90" y1="450.50" x2="35.90" y2="453.00" stroke="#ff2a2a" stroke-width="1.2"/>
<line x1="31.30" y1="448.60" x2="28.83" y2="451.07" stroke="#ff2a2a" stroke-width="1.2"/>
<line x1="29.40" y1="444.00" x2="26.90" y2="444.00" stroke="#ff2a2a" stroke-width="1.2"/>
<line x1="31.30" y1="439.40" x2="28.83" y2="436.93" stroke="#ff2a2a" stroke-width="1.2"/>
<line x1="35.90" y1="437.50" x2="35.90" y2="435.00" stroke="#ff2a2a" stroke-width="1.2"/>
<line x1="40.50" y1="439.40" x2="42.97" y2="436.93" stroke="#ff2a2a" stroke-width="1.2"/>
<rect x="937.6" y="1.9" width="16.8" height="16.8" fill="#fff" stroke="#1f7fd1" stroke-width="1.4"/>
<path d="M940 10.3h2.9M949.1 10.3h2.9M945.9 4.4v2.5M945.9 13.3v2.5" stroke="#1f7fd1" stroke-width="2.3" fill="none"/><rect x="944.7" y="9.1" width="2.4" height="2.4" fill="#1f7fd1"/>
<rect x="957.6" y="1.9" width="16.8" height="16.8" fill="#fff" stroke="#1f7fd1" stroke-width="1.4"/>
<path d="M961.3 4v12M959.8 15.3h12.5" stroke="#1f7fd1" stroke-width="1.3" fill="none"/><path d="M961.3 3.2l-1.6 2.4h3.2zM973.2 15.3l-2.4-1.6v3.2z" fill="#1f7fd1"/><path d="M965.4 5v8" stroke="#1f7fd1" stroke-width="1.4"/><path d="M970.3 5.2v7.6l-3.6-3.8z" fill="#1f7fd1"/>
<rect x="977.6" y="1.9" width="16.8" height="16.8" fill="#1f7fd1" stroke="#1f7fd1" stroke-width="1.4"/>
<path d="M981.3 4v12M979.8 15.3h12.5" stroke="#fff" stroke-width="1.3" fill="none"/><path d="M981.3 3.2l-1.6 2.4h3.2zM993.2 15.3l-2.4-1.6v3.2z" fill="#fff"/><path d="M984.6 5v8" stroke="#fff" stroke-width="1.3"/><path d="M986.6 5.2v7.6l4.6-3.8z" fill="#fff"/>
<rect x="997.6" y="1.9" width="16.8" height="16.8" fill="#fff" stroke="#1f7fd1" stroke-width="1.4"/>
<rect x="1000.6" y="4.4" width="3.4" height="11.6" fill="none" stroke="#1f7fd1" stroke-width="1.3"/><path d="M1003.5 9h5v-2.6l4.2 3.9-4.2 3.9v-2.6h-5z" fill="#1f7fd1"/>
<path d="M274.6 3v15.6H260" fill="none" stroke="#b9b9c4" stroke-width="1"/>
<rect x="258.9" y="1.8" width="14.6" height="15.6" rx="1.2" fill="#fff" stroke="#2d2d8e" stroke-width="1.5"/>
<polyline points="260,10.8 263.8,6.2 267.5,9.6 271,6.8 272.6,6.8" fill="none" stroke="#ff3030" stroke-width="1.2"/>
<polyline points="259.8,14.8 264,10 267.6,13.6 271,10.6 272.6,10.6" fill="none" stroke="#3030ff" stroke-width="1.2"/>
</svg>

<!-- header -->
<div class="hd hc" style="left:115px;color:#111;letter-spacing:-0.2px">美原油连续</div>
<div class="hd hc" style="left:188.5px;color:#ff8210;letter-spacing:0.4px;font-size:15.5px">【日线】</div>
<div class="hd" style="left:278px;color:#1a1a1a">MA(20,50,100,200,0,0)</div>
<div class="hd" style="left:442px;color:#4d94ff">MA20:74.72</div>
<div class="hd" style="left:537px;color:#5cc994">MA50:73.27</div>
<div class="hd" style="left:632px;color:#45b4e6">MA100:78.09</div>
<div class="hd" style="left:735px;color:#ff9f5e">MA200:77.45</div>

<!-- left axis -->
<div class="ax axl" style="top:19px">86.62</div>
<div class="ax axl" style="top:87px">82.59</div>
<div class="ax axl" style="top:155px">78.55</div>
<div class="ax axl" style="top:223px">74.52</div>
<div class="ax axl" style="top:291px">70.48</div>
<div class="ax axl" style="top:387px">108.06</div>
<div class="ax axl" style="top:454px">83.18</div>
<div class="ax axl" style="top:489px">50.58</div>
<!-- right axis -->
<div class="ax axr" style="top:19px">86.62</div>
<div class="ax axr" style="top:87px">82.59</div>
<div class="ax axr" style="top:155px">78.55</div>
<div class="ax axr" style="top:223px">74.52</div>
<div class="ax axr" style="top:291px">70.48</div>
<div class="ax axr" style="top:387px">108.06</div>
<div class="ax axr" style="top:454px">83.18</div>
<div class="ax axr" style="top:489px">50.58</div>
<div class="ax" style="left:1020px;top:201.3px;color:#ff8c1a;font-size:15px">76.51</div>
<div class="ax" style="left:978.3px;top:248.6px;color:#2020f4;font-size:15.6px">72.50</div>
<div class="abs" style="left:813px;top:134.6px;font-size:16px;font-weight:bold;color:#f3566e;line-height:16px;letter-spacing:-0.1px">79.26</div>
<div class="abs" style="left:425.8px;top:350px;font-size:16px;font-weight:bold;color:#5fc593;line-height:16px;letter-spacing:-0.1px">67.69</div>

<!-- sub panel titles -->
<div class="abs" style="left:115px;top:370.5px;font-size:16px;letter-spacing:-0.75px;line-height:20px;color:#1a1a1a">KDJ(9,3,3)</div>
<div class="abs" style="left:192px;top:370.5px;font-size:16px;letter-spacing:-0.45px;line-height:20px;color:#4d94ff">K:53.49</div>
<div class="abs" style="left:254px;top:370.5px;font-size:16px;letter-spacing:-0.45px;line-height:20px;color:#5cc994">D:44.62</div>
<div class="abs" style="left:317px;top:370.5px;font-size:16px;letter-spacing:-0.45px;line-height:20px;color:#45b4e6">J:71.24</div>
<div class="abs" style="left:115px;top:438.4px;font-size:16px;letter-spacing:-0.75px;line-height:20px;color:#1a1a1a">RSI(6,12,24)</div>
<div class="abs" style="left:205px;top:438.4px;font-size:16px;letter-spacing:-0.45px;line-height:20px;color:#4d94ff">RSI1:64.84</div>
<div class="abs" style="left:290px;top:438.4px;font-size:16px;letter-spacing:-0.45px;line-height:20px;color:#5cc994">RSI2:58.28</div>
<div class="abs" style="left:375px;top:438.4px;font-size:16px;letter-spacing:-0.45px;line-height:20px;color:#45b4e6">RSI3:53.40</div>

<!-- dates -->
<div class="date" style="left:322px">2023/12</div>
<div class="date" style="left:572px">2024/01</div>
<div class="date" style="left:848px">2024/02</div>

<!-- period box -->
<div style="position:absolute;left:25px;top:532px;width:88px;height:24px;border:1px solid #dcdfea;background:#fff"></div>
<div class="abs" style="left:42.5px;top:536px;font-size:15.5px;font-weight:bold;color:#ff8210;line-height:20px">日线</div>
<svg class="abs" style="left:79px;top:539px" width="14" height="13"><polygon points="1,11.5 12,11.5 6.5,1" fill="#ff8210"/></svg>

<!-- tab bar -->
<div style="position:absolute;left:25px;top:556px;width:1078px;height:20px;border-top:1px solid #d9dde6;border-bottom:1px solid #d9dde6;background:#fff"></div>
<div style="position:absolute;left:25px;top:557px;width:49px;height:19px;background:#ff6a00;color:#fff;font-size:15px;letter-spacing:-0.4px;line-height:19px;text-align:center">指标</div>
<div style="position:absolute;left:74px;top:557px;width:49px;height:19px;color:#2d3246;font-size:15px;letter-spacing:-0.4px;line-height:19px;text-align:center">模板</div>
<div class="tab vip" style="left:123px;width:74px"><span>VIP</span>指标</div><div class="tab " style="left:197px;width:35px"><span>MA</span></div><div class="tab " style="left:232px;width:48px"><span>MACD</span></div><div class="tab " style="left:280px;width:52px"><span>BOLL</span></div><div class="tab " style="left:332px;width:42px"><span>VOL</span></div><div class="tab " style="left:374px;width:50px"><span>BIAS</span></div><div class="tab " style="left:424px;width:43px"><span>CCI</span></div><div class="tab " style="left:467px;width:43px"><span>KDJ</span></div><div class="tab " style="left:510px;width:50px;padding-right:11px"><span>LW&amp;</span></div><div class="tab " style="left:560px;width:42px"><span>RSI</span></div><div class="tab " style="left:602px;width:35px"><span>CR</span></div><div class="tab " style="left:637px;width:43px"><span>PSY</span></div><div class="tab cn" style="left:680px;width:49px">设置</div>
<div style="position:absolute;left:729px;top:557px;width:1px;height:19px;background:#d9dde6"></div>
</body></html>
